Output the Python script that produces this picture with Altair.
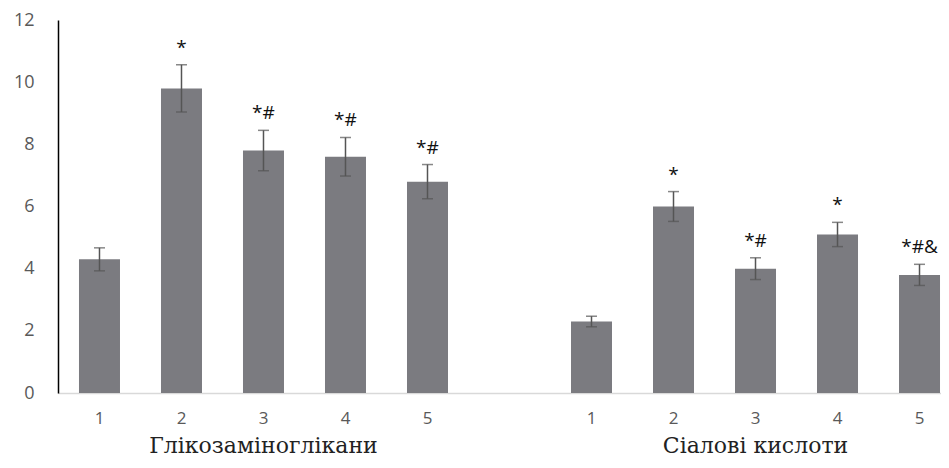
import altair as alt
import pandas as pd

slots = ["a1", "a2", "a3", "a4", "a5", "gap", "b1", "b2", "b3", "b4", "b5"]
bar_slots = ["a1", "a2", "a3", "a4", "a5", "b1", "b2", "b3", "b4", "b5"]
values = [4.3, 9.8, 7.8, 7.6, 6.8, 2.3, 6.0, 4.0, 5.1, 3.8]
errors = [0.37, 0.76, 0.65, 0.62, 0.55, 0.17, 0.48, 0.35, 0.39, 0.34]
marks = ["", "*", "*#", "*#", "*#", "", "*", "*#", "*", "*#&"]
group_slots = ["a3", "b3"]
group_names = ["Глікозаміноглікани", "Сіалові кислоти"]

df = pd.DataFrame({
    "slot": bar_slots,
    "value": values,
    "lo": [v - e for v, e in zip(values, errors)],
    "hi": [v + e for v, e in zip(values, errors)],
    "mark": marks,
})
gdf = pd.DataFrame({"slot": group_slots, "name": group_names})

H = 373
x = alt.X("slot:N",
          scale=alt.Scale(domain=slots, paddingInner=0.5, paddingOuter=0.134, align=0.955),
          axis=alt.Axis(title=None, labelAngle=0, ticks=False,
                        labelExpr="datum.value == 'gap' ? '' : substring(datum.value, 1, 2)",
                        labelFont="Open Sans", labelFontSize=17, labelColor="#595959",
                        labelPadding=17, domainColor="#d9d9d9", domainWidth=1.5))
y = alt.Y("value:Q",
          scale=alt.Scale(domain=[0, 12], nice=False),
          axis=alt.Axis(title=None, values=[0, 2, 4, 6, 8, 10, 12], grid=False, ticks=False,
                        labelFont="Open Sans", labelFontSize=18, labelColor="#595959",
                        labelPadding=24, domainColor="#000000", domainWidth=1.5))

bars = alt.Chart(df).mark_bar(color="#7b7b80").encode(x=x, y=y)
rule = alt.Chart(df).mark_rule(color="#555555", strokeWidth=1.5).encode(
    x=alt.X("slot:N"), y=alt.Y("lo:Q"), y2="hi:Q")
cap_hi = alt.Chart(df).mark_tick(color="#555555", size=11, thickness=1.5).encode(
    x=alt.X("slot:N"), y=alt.Y("hi:Q"))
cap_lo = alt.Chart(df).mark_tick(color="#555555", size=11, thickness=1.5).encode(
    x=alt.X("slot:N"), y=alt.Y("lo:Q"))
txt = alt.Chart(df).mark_text(baseline="bottom", dy=-7, font="Open Sans", fontSize=19,
                              color="#111111").encode(
    x=alt.X("slot:N"), y=alt.Y("hi:Q"), text="mark:N")
gtxt = alt.Chart(gdf).mark_text(baseline="alphabetic", font="DejaVu Serif", fontSize=22,
                                color="#222222").encode(
    x=alt.X("slot:N"), y=alt.value(H + 60), text="name:N")

chart = alt.layer(bars, rule, cap_hi, cap_lo, txt, gtxt).properties(
    width=883, height=H,
    autosize=alt.AutoSizeParams(type="none"),
    padding={"left": 50, "top": 12, "right": 0, "bottom": 67},
).configure_view(stroke=None)

chart.save("out.html", embed_options={"renderer": "svg", "actions": False})
